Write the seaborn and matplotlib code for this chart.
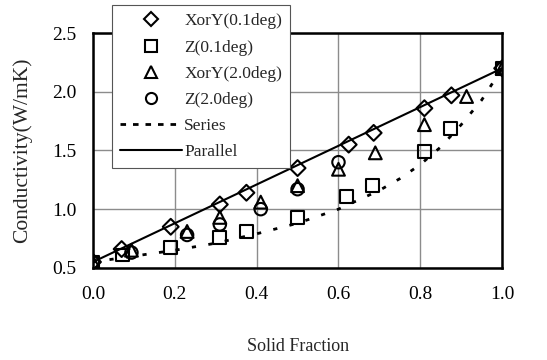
import matplotlib
matplotlib.use("Agg")
import matplotlib.pyplot as plt
from matplotlib.lines import Line2D
import seaborn as sns

# Measured conductivity vs solid fraction
xy01_x = [0.0, 0.07, 0.19, 0.31, 0.375, 0.50, 0.625, 0.686, 0.81, 0.876, 1.0]
xy01_y = [0.55, 0.66, 0.85, 1.04, 1.14, 1.35, 1.55, 1.65, 1.86, 1.97, 2.2]

z01_x = [0.0, 0.073, 0.19, 0.31, 0.375, 0.50, 0.62, 0.684, 0.81, 0.873, 1.0]
z01_y = [0.55, 0.61, 0.67, 0.76, 0.81, 0.93, 1.11, 1.20, 1.49, 1.69, 2.2]

xy20_x = [0.0, 0.094, 0.23, 0.31, 0.41, 0.50, 0.60, 0.69, 0.81, 0.913, 1.0]
xy20_y = [0.55, 0.65, 0.81, 0.93, 1.06, 1.20, 1.34, 1.48, 1.72, 1.96, 2.2]

z20_x = [0.0, 0.094, 0.23, 0.31, 0.41, 0.50, 0.60, 1.0]
z20_y = [0.55, 0.63, 0.78, 0.87, 1.00, 1.17, 1.40, 2.2]

# Bound models
series_x = [0.0, 0.1, 0.2, 0.3, 0.4, 0.5, 0.6, 0.7, 0.75, 0.8, 0.85, 0.9, 0.95, 1.0]
series_y = [0.55, 0.60, 0.65, 0.71, 0.79, 0.88, 1.00, 1.16, 1.26, 1.38, 1.53, 1.72, 1.93, 2.2]
parallel_x = [0.0, 1.0]
parallel_y = [0.55, 2.2]

x_ticks = [0.0, 0.2, 0.4, 0.6, 0.8, 1.0]
y_ticks = [0.5, 1.0, 1.5, 2.0, 2.5]

sns.set_style("white")
plt.rcParams["font.family"] = ["Liberation Serif", "DejaVu Serif"]

fig = plt.figure(figsize=(5.47, 3.60), dpi=100)
ax = fig.add_axes([0.170, 0.256, 0.748, 0.652])

sns.lineplot(x=series_x, y=series_y, ax=ax, color="black", lw=2.0,
             linestyle=(0, (1.5, 4.5)), sort=False)
sns.lineplot(x=parallel_x, y=parallel_y, ax=ax, color="black", lw=1.5, sort=False)

mk = dict(facecolor="none", edgecolor="black", linewidth=1.5, ax=ax, zorder=3)
sns.scatterplot(x=xy01_x, y=xy01_y, marker="D", s=65, **mk)
sns.scatterplot(x=z01_x, y=z01_y, marker="s", s=85, **mk)
sns.scatterplot(x=xy20_x, y=xy20_y, marker="^", s=85, **mk)
sns.scatterplot(x=z20_x, y=z20_y, marker="o", s=80, **mk)

ax.set_xlim(0, 1.0)
ax.set_ylim(0.5, 2.5)
ax.set_xticks(x_ticks)
ax.set_yticks(y_ticks)
ax.set_xticklabels([f"{v:.1f}" for v in x_ticks])
ax.set_yticklabels([f"{v:.1f}" for v in y_ticks])
ax.tick_params(axis="both", length=0, labelsize=14, colors="black")
ax.tick_params(axis="x", pad=13)
ax.tick_params(axis="y", pad=12)
ax.grid(True, color="#8c8c8c", lw=1.0)
for s in ax.spines.values():
    s.set_visible(True)
    s.set_color("black")
    s.set_linewidth(1.8)

ax.set_xlabel("Solid Fraction", fontsize=13, labelpad=25)
ax.set_ylabel("Conductivity(W/mK)", fontsize=15.5, labelpad=14)

handles = [
    Line2D([], [], ls="none", marker="D", ms=7, mfc="none", mec="black", mew=1.5),
    Line2D([], [], ls="none", marker="s", ms=8, mfc="none", mec="black", mew=1.5),
    Line2D([], [], ls="none", marker="^", ms=8.5, mfc="none", mec="black", mew=1.5),
    Line2D([], [], ls="none", marker="o", ms=8, mfc="none", mec="black", mew=1.5),
    Line2D([], [], color="black", lw=2.0, ls=(0, (2, 2.5))),
    Line2D([], [], color="black", lw=1.5),
]
labels = ["XorY(0.1deg)", "Z(0.1deg)", "XorY(2.0deg)", "Z(2.0deg)", "Series", "Parallel"]
leg = fig.legend(handles, labels, loc="upper left", bbox_to_anchor=(0.205, 0.985),
                 fontsize=12.5, frameon=True, fancybox=False, framealpha=1,
                 edgecolor="#555555", handlelength=3.6, handletextpad=0.1,
                 labelspacing=0.58, borderpad=0.45, borderaxespad=0)
leg.get_frame().set_linewidth(0.8)

fig.savefig("out.png", dpi=100)
